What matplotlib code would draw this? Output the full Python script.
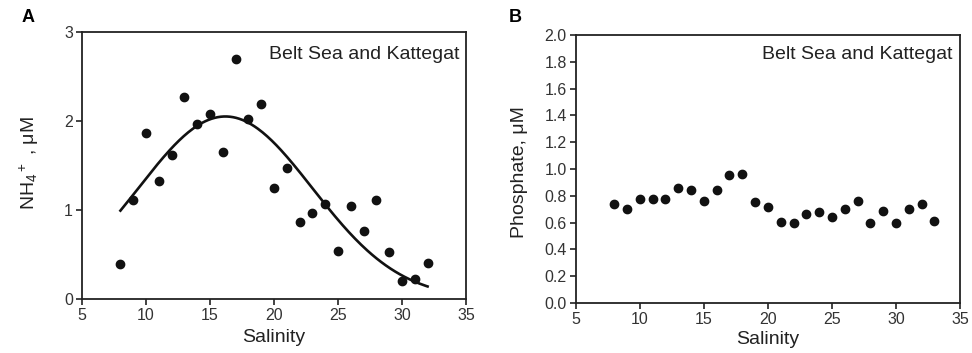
import numpy as np
import matplotlib
matplotlib.use("Agg")
import matplotlib.pyplot as plt

plt.rcParams['font.family'] = ['Liberation Sans', 'DejaVu Sans']
plt.rcParams['mathtext.fontset'] = 'custom'
plt.rcParams['mathtext.rm'] = 'Liberation Sans'
plt.rcParams['mathtext.it'] = 'Liberation Sans'

# Panel A: NH4+ vs salinity
sal_a = [8, 9, 10, 11, 12, 13, 14, 15, 16, 17, 18, 19, 20, 21, 22, 23, 24, 25, 26, 27, 28, 29, 30, 31, 32]
nh4 = [0.39, 1.11, 1.86, 1.32, 1.62, 2.27, 1.96, 2.08, 1.65, 2.70, 2.02, 2.19, 1.24, 1.47, 0.86, 0.96,
       1.06, 0.54, 1.04, 0.76, 1.11, 0.53, 0.20, 0.22, 0.40]
# Gaussian fit parameters (peak, centre, width) of the drawn curve
fit_peak, fit_centre, fit_width = 2.05, 16.2, 6.8
fit_range = (8, 32)

# Panel B: phosphate vs salinity
sal_b = [8, 9, 10, 11, 12, 13, 14, 15, 16, 17, 18, 19, 20, 21, 22, 23, 24, 25, 26, 27, 28, 29, 30, 31, 32, 33]
phos = [0.74, 0.70, 0.78, 0.775, 0.775, 0.86, 0.84, 0.76, 0.84, 0.955, 0.96, 0.755, 0.715, 0.605, 0.60,
        0.665, 0.68, 0.64, 0.70, 0.76, 0.60, 0.685, 0.595, 0.70, 0.74, 0.61]

site = "Belt Sea and Kattegat"

fig = plt.figure(figsize=(9.72, 3.53), dpi=100)
axA = fig.add_axes([0.0844, 0.1538, 0.395, 0.7555])
axB = fig.add_axes([0.5923, 0.1416, 0.3954, 0.759])

def style(ax):
    for s in ax.spines.values():
        s.set_linewidth(1.3)
        s.set_color('#222222')
    ax.tick_params(direction='out', length=4.5, width=1.2, labelsize=11.5, colors='#222222',
                   labelcolor='#333333', top=False, right=False, pad=2)

# A
style(axA)
axA.plot(sal_a, nh4, 'o', color='#111111', markersize=6)
xs = np.linspace(fit_range[0], fit_range[1], 200)
axA.plot(xs, fit_peak * np.exp(-0.5 * ((xs - fit_centre) / fit_width) ** 2), color='#111111', lw=1.9)
axA.set_xlim(5, 35)
axA.set_ylim(0, 3)
axA.set_xticks([5, 10, 15, 20, 25, 30, 35])
axA.set_yticks([0, 1, 2, 3])
axA.set_xlabel("Salinity", fontsize=14, color='#222222', va='center')
axA.xaxis.set_label_coords(0.5, -0.144)
axA.set_ylabel(r"NH$_4$$^+$ , μM", fontsize=14, color='#222222', va='center')
axA.yaxis.set_label_coords(-0.138, 0.51)
axA.text(0.984, 0.917, site, transform=axA.transAxes, ha='right', va='center', fontsize=14, color='#222222')
fig.text(22 / 972, 1 - 17 / 353, "A", fontsize=13, fontweight='bold', va='center', ha='left')

# B
style(axB)
axB.plot(sal_b, phos, 'o', color='#111111', markersize=6)
axB.set_xlim(5, 35)
axB.set_ylim(0, 2.0)
axB.set_xticks([5, 10, 15, 20, 25, 30, 35])
axB.set_yticks(np.arange(0, 2.01, 0.2))
axB.set_yticklabels([f"{v:.1f}" for v in np.arange(0, 2.01, 0.2)])
axB.set_xlabel("Salinity", fontsize=14, color='#222222', va='center')
axB.xaxis.set_label_coords(0.5, -0.138)
axB.set_ylabel("Phosphate, μM", fontsize=14, color='#222222', va='center')
axB.yaxis.set_label_coords(-0.146, 0.49)
axB.text(0.981, 0.929, site, transform=axB.transAxes, ha='right', va='center', fontsize=14, color='#222222')
fig.text(509 / 972, 1 - 17 / 353, "B", fontsize=13, fontweight='bold', va='center', ha='left')

fig.savefig("out.png", dpi=100)
